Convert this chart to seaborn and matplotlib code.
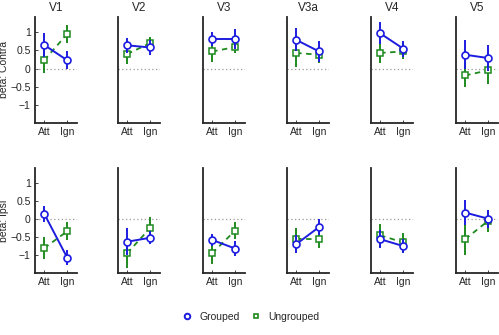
import matplotlib
matplotlib.use("Agg")
import matplotlib.pyplot as plt
import seaborn as sns
import numpy as np
import pandas as pd
from matplotlib.lines import Line2D

regions = ["V1", "V2", "V3", "V3a", "V4", "V5"]
conditions = ["Att", "Ign"]

# Contra (top row): [Att, Ign]
contra_grouped = [[0.65, 0.23], [0.64, 0.58], [0.81, 0.81], [0.79, 0.47], [0.97, 0.55], [0.38, 0.29]]
contra_grouped_err = [[0.33, 0.24], [0.21, 0.22], [0.19, 0.28], [0.32, 0.30], [0.30, 0.22], [0.40, 0.35]]
contra_ungrouped = [[0.23, 0.95], [0.40, 0.70], [0.47, 0.59], [0.43, 0.38], [0.43, 0.47], [-0.19, -0.05]]
contra_ungrouped_err = [[0.34, 0.26], [0.27, 0.17], [0.28, 0.17], [0.40, 0.23], [0.27, 0.22], [0.33, 0.38]]

# Ipsi (bottom row)
ipsi_grouped = [[0.15, -1.07], [-0.63, -0.52], [-0.58, -0.82], [-0.70, -0.22], [-0.56, -0.75], [0.18, 0.01]]
ipsi_grouped_err = [[0.22, 0.21], [0.38, 0.18], [0.16, 0.20], [0.25, 0.22], [0.25, 0.20], [0.35, 0.25]]
ipsi_ungrouped = [[-0.81, -0.34], [-0.95, -0.25], [-0.95, -0.32], [-0.55, -0.56], [-0.45, -0.65], [-0.56, -0.05]]
ipsi_ungrouped_err = [[0.30, 0.25], [0.41, 0.30], [0.29, 0.24], [0.31, 0.24], [0.32, 0.27], [0.43, 0.30]]

row_labels = ["beta: Contra", "beta: Ipsi"]

sns.set_style("ticks")
plt.rcParams['font.family'] = ['Liberation Sans', 'DejaVu Sans']
plt.rcParams['axes.linewidth'] = 1.3

BLUE = "#1c1ce0"
GREEN = "#1e8a1e"

fig = plt.figure(figsize=(4.99, 3.35), dpi=100)
W, H = 499.0, 335.0
lefts = [35, 118, 203, 287, 371, 456]
rows = [(17, 123), (168, 273)]

data = [
    (contra_grouped, contra_grouped_err, contra_ungrouped, contra_ungrouped_err),
    (ipsi_grouped, ipsi_grouped_err, ipsi_ungrouped, ipsi_ungrouped_err),
]

xpos = np.array([1.0, 2.0])
for r, (top, bot) in enumerate(rows):
    g, ge, u, ue = data[r]
    for c, reg in enumerate(regions):
        ax = fig.add_axes([lefts[c] / W, 1 - bot / H, 42 / W, (bot - top) / H])
        ax.plot([0.6, 2.43], [0, 0], ls=(0, (1, 2)), color="#999999", lw=0.9, zorder=1)
        ax.errorbar(xpos, g[c], yerr=ge[c], fmt="none", ecolor=BLUE, elinewidth=1.4, capsize=0, zorder=3)
        ax.errorbar(xpos, u[c], yerr=ue[c], fmt="none", ecolor=GREEN, elinewidth=1.4, capsize=0, zorder=2)
        ax.plot(xpos, u[c], color=GREEN, lw=1.3, ls=(0, (3.0, 2.5)), zorder=2.5)
        ax.plot(xpos, u[c], ls="none", marker="s", markersize=4, markerfacecolor="white",
                markeredgecolor=GREEN, markeredgewidth=1.1, zorder=2.6)
        ax.plot(xpos, g[c], color=BLUE, lw=1.4, zorder=4)
        ax.plot(xpos, g[c], ls="none", marker="o", markersize=5, markerfacecolor="white",
                markeredgecolor=BLUE, markeredgewidth=1.2, zorder=4.1)
        ax.set_xlim(0.6, 2.43)
        ax.set_ylim(-1.5, 1.42)
        ax.set_xticks(xpos)
        ax.set_xticklabels(conditions, fontsize=7.5)
        ax.tick_params(axis="x", direction="in", length=2, width=0.6, pad=3)
        sns.despine(ax=ax)
        if c == 0:
            ax.set_yticks([-1, -0.5, 0, 0.5, 1])
            ax.set_yticklabels(["\u22121", "\u22120.5", "0", "0.5", "1"], fontsize=7.5)
            ax.tick_params(axis="y", direction="in", length=2, width=0.6, pad=3)
            ax.set_ylabel(row_labels[r], fontsize=7.5, labelpad=1)
        else:
            ax.set_yticks([])
        if r == 0:
            ax.set_title(reg, fontsize=8.5, pad=4)

handles = [
    Line2D([], [], ls="none", marker="o", markersize=4, markerfacecolor="white",
           markeredgecolor=BLUE, markeredgewidth=1.4),
    Line2D([], [], ls="none", marker="s", markersize=3.5, markerfacecolor="white",
           markeredgecolor=GREEN, markeredgewidth=1.2),
]
fig.legend(handles, ["Grouped", "Ungrouped"], loc="center", bbox_to_anchor=(250 / W, 1 - 317 / H),
           ncol=2, frameon=False, fontsize=7.5, handlelength=1.2, columnspacing=0.9, handletextpad=0.6)

fig.savefig("out.png", dpi=100)
